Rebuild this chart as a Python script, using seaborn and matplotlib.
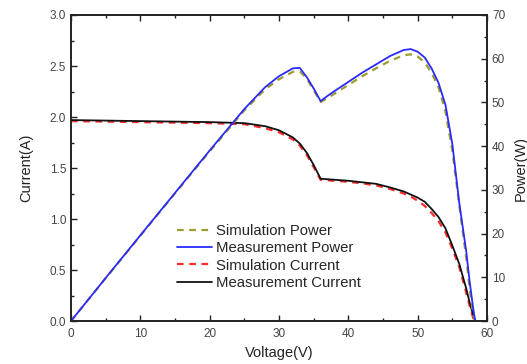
import numpy as np
import pandas as pd
import matplotlib
matplotlib.use("Agg")
import matplotlib.pyplot as plt
import seaborn as sns
from matplotlib.ticker import MultipleLocator

# ---- data ----
voltage = [0, 5, 10, 15, 20, 25, 28, 30, 32, 33, 34, 35, 36, 37, 38, 40, 42, 44,
           46, 48, 49, 50, 51, 52, 53, 54, 55, 56, 57, 57.5, 58, 58.3]
meas_current = [1.97, 1.965, 1.96, 1.955, 1.95, 1.94, 1.91, 1.87, 1.80, 1.74, 1.65, 1.53,
                1.395, 1.39, 1.385, 1.375, 1.36, 1.345, 1.31, 1.27, 1.24, 1.21, 1.17,
                1.10, 1.02, 0.91, 0.74, 0.56, 0.32, 0.18, 0.06, 0.0]
sim_current = [1.96, 1.955, 1.95, 1.945, 1.94, 1.93, 1.89, 1.85, 1.78, 1.72, 1.63, 1.51,
               1.385, 1.38, 1.375, 1.365, 1.35, 1.33, 1.295, 1.25, 1.22, 1.18, 1.13,
               1.06, 0.98, 0.87, 0.71, 0.53, 0.28, 0.15, 0.03, 0.0]
meas_power = [0, 9.85, 19.6, 29.3, 39.0, 48.5, 53.5, 56.0, 57.8, 57.9, 55.8, 53.2,
              50.3, 51.5, 52.6, 54.7, 56.8, 58.7, 60.6, 62.0, 62.2, 61.6, 60.3,
              57.8, 54.5, 49.5, 40.5, 27.0, 16.0, 9.0, 3.0, 0.0]
sim_power = [0, 9.8, 19.5, 29.2, 38.8, 48.2, 53.0, 55.3, 57.0, 57.1, 55.5, 52.8,
             50.1, 51.0, 52.0, 54.0, 56.0, 57.8, 59.5, 60.8, 61.0, 60.5, 59.2,
             56.8, 53.5, 48.0, 39.0, 26.5, 14.5, 7.5, 1.5, 0.0]

x_label = "Voltage(V)"
y_left_label = "Current(A)"
y_right_label = "Power(W)"

df = pd.DataFrame({"V": voltage, "Im": meas_current, "Is": sim_current,
                   "Pm": meas_power, "Ps": sim_power})

sns.set_style("ticks")
plt.rcParams['font.family'] = ['Liberation Sans', 'DejaVu Sans']

fig = plt.figure(figsize=(5.27, 3.64), dpi=100)
ax = fig.add_axes([0.1347, 0.118, 0.7894, 0.8408])
ax2 = ax.twinx()

c_sim_p = "#9c9c30"
c_meas_p = "#2a2aff"
c_sim_i = "#ff2a2a"
c_meas_i = "#111111"

sns.lineplot(data=df, x="V", y="Is", ax=ax, color=c_sim_i, lw=1.6,
             linestyle=(0, (3, 2.5)), label="Simulation Current", legend=False)
sns.lineplot(data=df, x="V", y="Im", ax=ax, color=c_meas_i, lw=1.3,
             label="Measurement Current", legend=False)
sns.lineplot(data=df, x="V", y="Ps", ax=ax2, color=c_sim_p, lw=1.6,
             linestyle=(0, (3, 2.5)), label="Simulation Power", legend=False)
sns.lineplot(data=df, x="V", y="Pm", ax=ax2, color=c_meas_p, lw=1.3,
             label="Measurement Power", legend=False)

ax.set_xlim(0, 60)
ax.set_ylim(0, 3.0)
ax2.set_ylim(0, 70)

ax.xaxis.set_major_locator(MultipleLocator(10))
ax.xaxis.set_minor_locator(MultipleLocator(5))
ax.yaxis.set_major_locator(MultipleLocator(0.5))
ax.yaxis.set_minor_locator(MultipleLocator(0.25))
ax2.yaxis.set_major_locator(MultipleLocator(10))
ax2.yaxis.set_minor_locator(MultipleLocator(5))

tick_col = "#444444"
ax.tick_params(axis="both", which="major", direction="in", length=4, width=1,
               labelsize=8.5, labelcolor=tick_col, top=True, color="#222222")
ax.tick_params(axis="both", which="minor", direction="in", length=2, width=1,
               top=True, color="#222222")
ax.tick_params(axis="y", which="both", right=False)
ax2.tick_params(axis="y", which="major", direction="in", length=4, width=1,
                labelsize=8.5, labelcolor=tick_col, color="#222222")
ax2.tick_params(axis="y", which="minor", direction="in", length=2, width=1,
                color="#222222")
ax.tick_params(axis="x", pad=5)
ax.yaxis.set_major_formatter(matplotlib.ticker.FormatStrFormatter("%.1f"))

for a in (ax, ax2):
    for s in a.spines.values():
        s.set_visible(True)
        s.set_linewidth(1.2)
        s.set_color("#222222")

ax.set_xlabel(x_label, fontsize=10.5, color="#222222", labelpad=4)
ax.set_ylabel(y_left_label, fontsize=10.5, color="#222222", labelpad=12)
ax2.set_ylabel(y_right_label, fontsize=10.5, color="#222222", labelpad=6)

handles = [ax2.lines[0], ax2.lines[1], ax.lines[0], ax.lines[1]]
labels = ["Simulation Power", "Measurement Power", "Simulation Current", "Measurement Current"]
fig.legend(handles, labels, loc="upper left", bbox_to_anchor=(177 / 527, 1 - 224 / 364),
           frameon=False, fontsize=10.7, handlelength=2.35, handletextpad=0.27,
           labelspacing=0.22, borderpad=0, borderaxespad=0)

fig.savefig("out.png", dpi=100)
